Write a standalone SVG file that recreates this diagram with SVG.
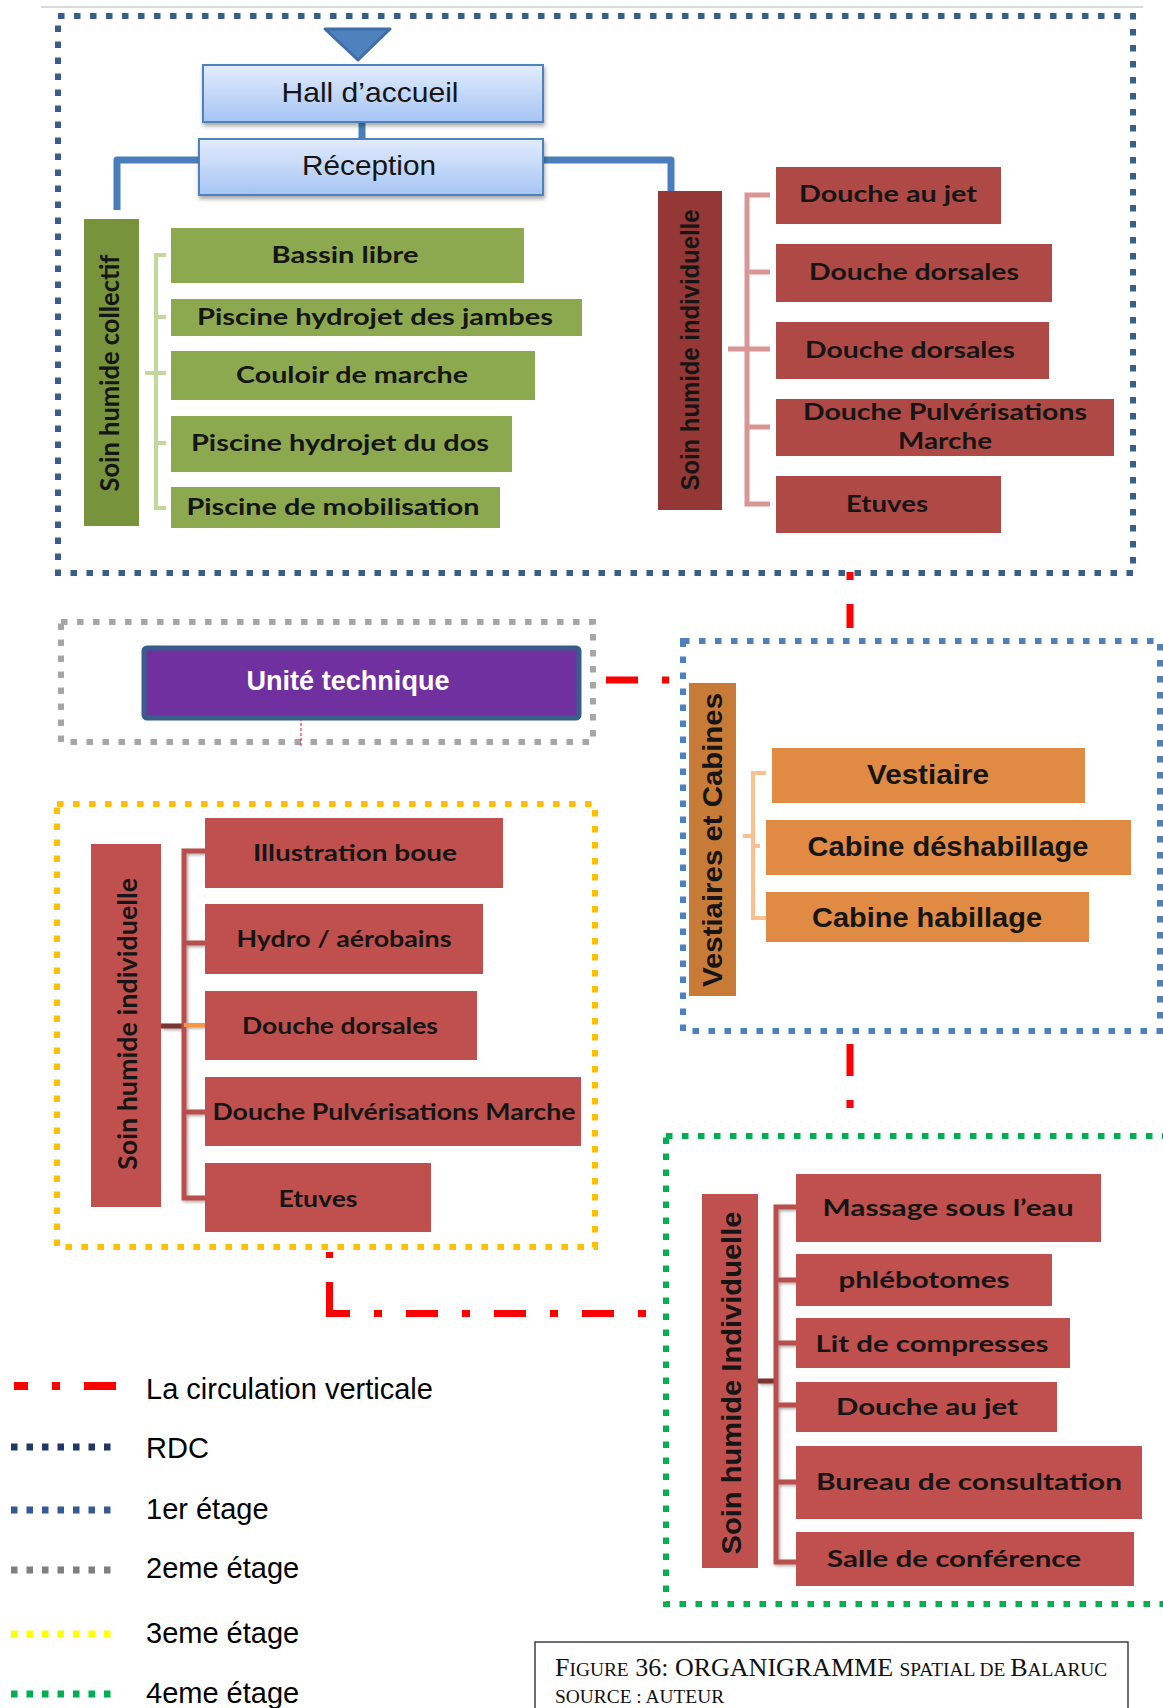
<svg xmlns="http://www.w3.org/2000/svg" width="1163" height="1708" viewBox="0 0 1163 1708">
<style>
.frame{fill:none;stroke-width:6;stroke-dasharray:6.5 9.5}
.leg{fill:none;stroke-width:7;stroke-dasharray:6.5 9}
.t{font-family:Lato,"Liberation Sans",sans-serif;font-weight:700;font-size:23px;fill:#151515;text-anchor:middle}
.tv{font-family:Lato,"Liberation Sans",sans-serif;font-weight:700;font-size:26px;fill:#151515;text-anchor:middle}
.ta{font-family:"Liberation Sans",Arial,sans-serif;font-weight:700;font-size:28px;fill:#151515;text-anchor:middle}
.tl{font-family:"Liberation Sans",Arial,sans-serif;font-size:29px;fill:#000}
.green{fill:#8DA94F}
.red1{fill:#AF4946}
.red2{fill:#C0504D}
.orange{fill:#E08A43}
.blue{fill:url(#gb);stroke:#4F81BD;stroke-width:2}
.vc{fill:none;stroke-linecap:butt}
.red{fill:none;stroke:#FF0000;stroke-width:7}
.cap{font-family:"Liberation Serif","Times New Roman",serif;fill:#111}
</style>
<defs>
<linearGradient id="gb" x1="0" y1="0" x2="0" y2="1">
<stop offset="0" stop-color="#E2ECFC"/>
<stop offset="1" stop-color="#A6C5F4"/>
</linearGradient>
<filter id="sh" x="-10%" y="-20%" width="120%" height="160%">
<feDropShadow dx="1" dy="3" stdDeviation="2" flood-color="#000" flood-opacity="0.35"/>
</filter>
<filter id="sh2" x="-20%" y="-5%" width="140%" height="110%">
<feDropShadow dx="1.5" dy="1.5" stdDeviation="1.5" flood-color="#000" flood-opacity="0.35"/>
</filter>
</defs>
<rect width="1163" height="1708" fill="#fff"/>
<line x1="41" y1="7" x2="1143" y2="7" stroke="#D9D9D9" stroke-width="2"/>

<!-- floor frames -->
<g id="frame-rdc"><rect class="frame" x="58" y="16" width="1075" height="557" stroke="#385D8A"/></g>
<g id="frame-2eme"><rect class="frame" x="61" y="622" width="532" height="120" stroke="#A6A6A6"/></g>
<g id="frame-1er"><rect class="frame" x="683" y="641" width="477" height="390" stroke="#4F80BE"/></g>
<g id="frame-3eme"><rect class="frame" x="57" y="804" width="538" height="443" stroke="#FFC000"/></g>
<g id="frame-4eme"><rect class="frame" x="666" y="1136" width="520" height="468" stroke="#00B050"/></g>

<!-- connectors -->
<g id="connectors">
<path d="M362 122 V139" stroke="#4A7EBB" stroke-width="7" class="vc"/>
<path d="M199 160 H117 V210" stroke="#4A7EBB" stroke-width="7" class="vc" stroke-linejoin="round"/>
<path d="M543 160 H671 V195" stroke="#4A7EBB" stroke-width="7" class="vc" stroke-linejoin="round"/>
<path d="M166 255 H156 V508 H166 M156 317 H166 M145 373 H166 M156 443 H166" stroke="#C3D69B" stroke-width="4" class="vc"/>
<path d="M770 195 H747 V504 H770 M747 272 H770 M728 349 H770 M747 427 H770" stroke="#D99694" stroke-width="5" class="vc"/>
<path d="M766 773 H753 V836 H743 M753 836 V918 H766 M753 846 H760" stroke="#FAC090" stroke-width="4" class="vc"/>
<g filter="url(#sh2)">
<path d="M161 1026 H184" stroke="#7a3533" stroke-width="5" class="vc"/>
<path d="M205 851 H184 V1198 H205 M184 943 H205 M184 1112 H205" stroke="#B9504D" stroke-width="5" class="vc"/>
<path d="M184 1025 H205" stroke="#F79646" stroke-width="4" class="vc"/>
<path d="M758 1381 H776" stroke="#7a3533" stroke-width="5" class="vc"/>
<path d="M797 1207 H776 V1562 H797 M776 1280 H797 M776 1343 H797 M776 1405 H797 M776 1482 H797" stroke="#B9504D" stroke-width="5" class="vc"/>
</g>
<!-- vertical circulation -->
<path class="red" d="M850 572 V580 M850 604 V628"/>
<path class="red" d="M606 680 H638 M662 680 H669"/>
<path class="red" d="M850 1044 V1076 M850 1100 V1108"/>
<path class="red" d="M329.5 1252 V1258 M329.5 1282 V1313"/>
<path class="red" d="M326 1313.5 H648" stroke-dasharray="32 24 8 24" stroke-dashoffset="8"/>
<path d="M301 718 V748" stroke="#FF0000" stroke-width="1" stroke-dasharray="3 2" fill="none"/>
</g>

<!-- RDC -->
<g id="arrow-entree"><polygon points="325,29 390,29 358,60" fill="#4F81BD" stroke="#3F6EA9" stroke-width="3" stroke-linejoin="round"/></g>
<g id="hall"><rect class="blue" x="203" y="65" width="340" height="57" filter="url(#sh)"/>
<text class="ta" style="font-weight:400" x="370" y="102" textLength="177" lengthAdjust="spacingAndGlyphs">Hall d’accueil</text></g>
<g id="reception"><rect class="blue" x="199" y="139" width="344" height="56" filter="url(#sh)"/>
<text class="ta" style="font-weight:400" x="369" y="175" textLength="134" lengthAdjust="spacingAndGlyphs">Réception</text></g>

<g id="soin-collectif"><rect x="84" y="219" width="55" height="307" fill="#77933C"/>
<text class="tv" transform="translate(110,373) rotate(-90)" y="9" textLength="237" lengthAdjust="spacingAndGlyphs">Soin humide collectif</text></g>
<g id="bassin-libre"><rect class="green" x="171" y="228" width="353" height="55"/><text class="t" x="345" y="263" textLength="147" lengthAdjust="spacingAndGlyphs">Bassin libre</text></g>
<g id="piscine-jambes"><rect class="green" x="171" y="299" width="411" height="37"/><text class="t" x="375" y="325" textLength="356" lengthAdjust="spacingAndGlyphs">Piscine hydrojet des jambes</text></g>
<g id="couloir-marche"><rect class="green" x="171" y="351" width="364" height="49"/><text class="t" x="352" y="383" textLength="232" lengthAdjust="spacingAndGlyphs">Couloir de marche</text></g>
<g id="piscine-dos"><rect class="green" x="171" y="416" width="341" height="56"/><text class="t" x="340" y="451" textLength="298" lengthAdjust="spacingAndGlyphs">Piscine hydrojet du dos</text></g>
<g id="piscine-mobilisation"><rect class="green" x="171" y="487" width="329" height="41"/><text class="t" x="333" y="515" textLength="293" lengthAdjust="spacingAndGlyphs">Piscine de mobilisation</text></g>

<g id="soin-individuelle-rdc"><rect x="658" y="191" width="64" height="319" fill="#953735"/>
<text class="ta" style="font-size:25px" transform="translate(690,350) rotate(-90)" y="9" textLength="281" lengthAdjust="spacingAndGlyphs">Soin humide individuelle</text></g>
<g id="douche-jet-rdc"><rect class="red1" x="776" y="167" width="225" height="57"/><text class="t" x="888" y="202" textLength="178" lengthAdjust="spacingAndGlyphs">Douche au jet</text></g>
<g id="douche-dorsales-1"><rect class="red1" x="776" y="244" width="276" height="58"/><text class="t" x="914" y="280" textLength="210" lengthAdjust="spacingAndGlyphs">Douche dorsales</text></g>
<g id="douche-dorsales-2"><rect class="red1" x="776" y="322" width="273" height="57"/><text class="t" x="910" y="358" textLength="210" lengthAdjust="spacingAndGlyphs">Douche dorsales</text></g>
<g id="douche-pulv-rdc"><rect class="red1" x="776" y="399" width="338" height="57"/><text class="t" x="945" y="420" textLength="284" lengthAdjust="spacingAndGlyphs">Douche Pulvérisations</text><text class="t" x="945" y="449" textLength="94" lengthAdjust="spacingAndGlyphs">Marche</text></g>
<g id="etuves-rdc"><rect class="red1" x="776" y="476" width="225" height="57"/><text class="t" x="887" y="512" textLength="82" lengthAdjust="spacingAndGlyphs">Etuves</text></g>

<!-- 2eme -->
<g id="unite-technique"><rect x="144" y="648" width="435" height="70" rx="3" fill="#7030A0" stroke="#385D8A" stroke-width="5"/>
<text class="ta" style="fill:#fff;font-size:27px" x="348" y="690" textLength="203" lengthAdjust="spacingAndGlyphs">Unité technique</text></g>

<!-- 1er -->
<g id="vestiaires-cabines"><rect x="689" y="683" width="47" height="313" fill="#C77B37"/>
<text class="ta" transform="translate(712,840) rotate(-90)" y="10" textLength="294" lengthAdjust="spacingAndGlyphs">Vestiaires et Cabines</text></g>
<g id="vestiaire"><rect class="orange" x="772" y="748" width="313" height="55"/><text class="ta" x="928" y="784" textLength="122" lengthAdjust="spacingAndGlyphs">Vestiaire</text></g>
<g id="cabine-deshabillage"><rect class="orange" x="766" y="820" width="365" height="55"/><text class="ta" x="948" y="856" textLength="281" lengthAdjust="spacingAndGlyphs">Cabine déshabillage</text></g>
<g id="cabine-habillage"><rect class="orange" x="766" y="892" width="323" height="50"/><text class="ta" x="927" y="927" textLength="230" lengthAdjust="spacingAndGlyphs">Cabine habillage</text></g>

<!-- 3eme -->
<g id="soin-individuelle-3"><rect class="red2" x="91" y="844" width="70" height="363"/>
<text class="tv" transform="translate(128,1024) rotate(-90)" y="9" textLength="292" lengthAdjust="spacingAndGlyphs">Soin humide individuelle</text></g>
<g id="illustration-boue"><rect class="red2" x="205" y="818" width="298" height="70"/><text class="t" x="355" y="861" textLength="204" lengthAdjust="spacingAndGlyphs">Illustration boue</text></g>
<g id="hydro-aerobains"><rect class="red2" x="205" y="904" width="278" height="70"/><text class="t" x="344" y="947" textLength="215" lengthAdjust="spacingAndGlyphs">Hydro / aérobains</text></g>
<g id="douche-dorsales-3"><rect class="red2" x="205" y="991" width="272" height="69"/><text class="t" x="340" y="1034" textLength="196" lengthAdjust="spacingAndGlyphs">Douche dorsales</text></g>
<g id="douche-pulv-3"><rect class="red2" x="205" y="1077" width="376" height="69"/><text class="t" x="394" y="1120" textLength="363" lengthAdjust="spacingAndGlyphs">Douche Pulvérisations Marche</text></g>
<g id="etuves-3"><rect class="red2" x="205" y="1163" width="226" height="69"/><text class="t" x="318" y="1207" textLength="79" lengthAdjust="spacingAndGlyphs">Etuves</text></g>

<!-- 4eme -->
<g id="soin-individuelle-4"><rect class="red2" x="702" y="1194" width="56" height="374"/>
<text class="ta" transform="translate(731,1383) rotate(-90)" y="10" textLength="343" lengthAdjust="spacingAndGlyphs">Soin humide Individuelle</text></g>
<g id="massage"><rect class="red2" x="796" y="1174" width="305" height="68"/><text class="t" x="948" y="1216" textLength="251" lengthAdjust="spacingAndGlyphs">Massage sous l’eau</text></g>
<g id="phlebotomes"><rect class="red2" x="796" y="1254" width="256" height="52"/><text class="t" x="924" y="1288" textLength="171" lengthAdjust="spacingAndGlyphs">phlébotomes</text></g>
<g id="lit-compresses"><rect class="red2" x="796" y="1318" width="274" height="50"/><text class="t" x="932" y="1352" textLength="233" lengthAdjust="spacingAndGlyphs">Lit de compresses</text></g>
<g id="douche-jet-4"><rect class="red2" x="796" y="1382" width="261" height="50"/><text class="t" x="927" y="1415" textLength="182" lengthAdjust="spacingAndGlyphs">Douche au jet</text></g>
<g id="bureau-consultation"><rect class="red2" x="796" y="1446" width="346" height="73"/><text class="t" x="969" y="1490" textLength="306" lengthAdjust="spacingAndGlyphs">Bureau de consultation</text></g>
<g id="salle-conference"><rect class="red2" x="796" y="1532" width="338" height="54"/><text class="t" x="954" y="1567" textLength="254" lengthAdjust="spacingAndGlyphs">Salle de conférence</text></g>

<!-- legend -->
<g id="legend">
<path d="M14 1386 H28 M52 1386 H60 M84 1386 H116" stroke="#FF0000" stroke-width="8" fill="none"/>
<text class="tl" x="146" y="1399">La circulation verticale</text>
<line class="leg" x1="11" y1="1447" x2="114" y2="1447" stroke="#1F3864"/>
<text class="tl" x="146" y="1458">RDC</text>
<line class="leg" x1="11" y1="1510" x2="114" y2="1510" stroke="#335A96"/>
<text class="tl" x="146" y="1519">1er étage</text>
<line class="leg" x1="11" y1="1570" x2="114" y2="1570" stroke="#7F7F7F"/>
<text class="tl" x="146" y="1578">2eme étage</text>
<line class="leg" x1="11" y1="1634" x2="114" y2="1634" stroke="#FFFF00"/>
<text class="tl" x="146" y="1643">3eme étage</text>
<line class="leg" x1="11" y1="1694" x2="114" y2="1694" stroke="#00B050"/>
<text class="tl" x="146" y="1703">4eme étage</text>
</g>

<!-- caption -->
<g id="caption">
<rect x="535" y="1642" width="593" height="80" fill="#fff" stroke="#222" stroke-width="1.3"/>
<text class="cap" x="555" y="1676" style="font-size:26px">F<tspan style="font-size:19.4px">IGURE</tspan> 36: ORGANIGRAMME <tspan style="font-size:19.4px">SPATIAL DE </tspan>B<tspan style="font-size:19.4px">ALARUC</tspan></text>
<text class="cap" x="555" y="1703" style="font-size:19.4px">SOURCE : AUTEUR</text>
</g>
</svg>
